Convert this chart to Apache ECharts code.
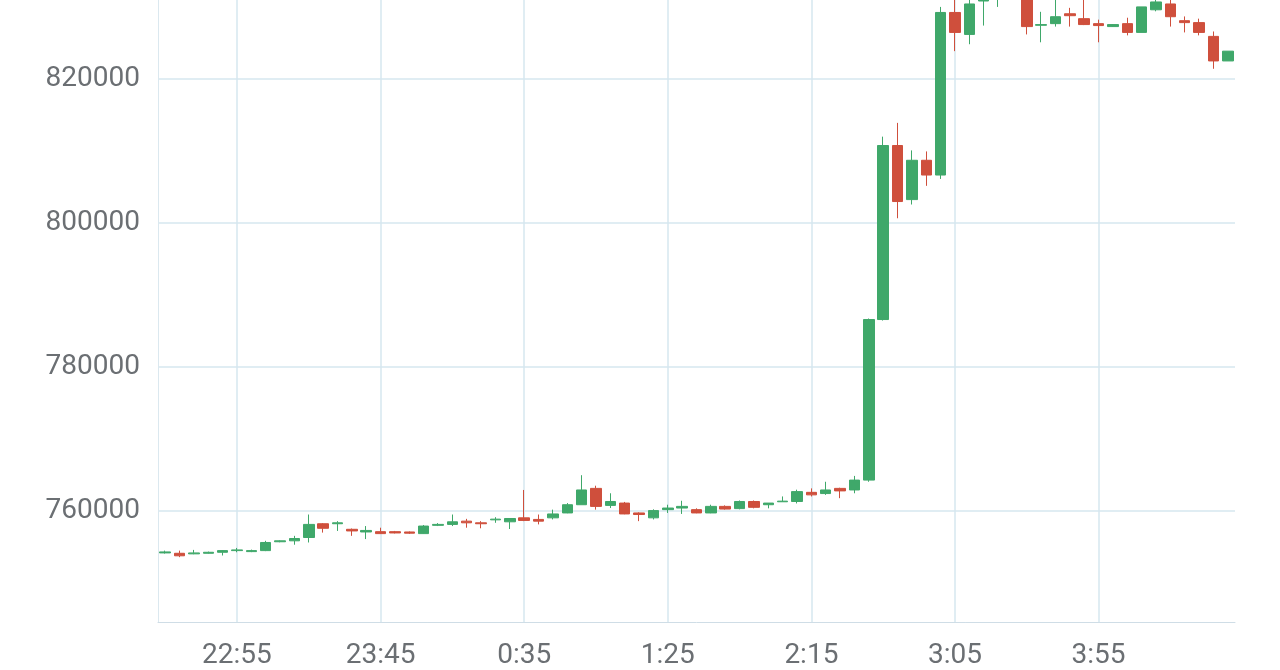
<!DOCTYPE html>
<html><head><meta charset="utf-8">
<script src="https://cdn.jsdelivr.net/npm/echarts@6/dist/echarts.min.js"></script>
<style>html,body{margin:0;padding:0;background:#fff}#c{width:1280px;height:670px}</style>
</head><body><div id="c"></div>
<script>
const categories = ["22:30","22:35","22:40","22:45","22:50","22:55","23:00","23:05","23:10","23:15","23:20","23:25","23:30","23:35","23:40","23:45","23:50","23:55","0:00","0:05","0:10","0:15","0:20","0:25","0:30","0:35","0:40","0:45","0:50","0:55","1:00","1:05","1:10","1:15","1:20","1:25","1:30","1:35","1:40","1:45","1:50","1:55","2:00","2:05","2:10","2:15","2:20","2:25","2:30","2:35","2:40","2:45","2:50","2:55","3:00","3:05","3:10","3:15","3:20","3:25","3:30","3:35","3:40","3:45","3:50","3:55","4:00","4:05","4:10","4:15","4:20","4:25","4:30","4:35","4:40"];
// [open, close, low, high]
const ohlc = [
[754160,754300,754070,754480],[754110,753760,753570,754480],[754030,754160,753980,754580],[754110,754250,754070,754340],
[754250,754480,753800,754550],[754480,754580,754250,754850],[754340,754480,754270,754620],[754480,755610,754410,755840],
[755710,755840,755640,755910],[755840,756160,755300,756530],[756300,758120,755610,759490],[758210,757580,756980,758300],
[758210,758340,757210,758570],[757440,757210,756530,757550],[757070,757280,756080,757890],[757110,756840,756800,757660],
[757110,756930,756870,757210],[757070,756900,756800,757140],[756840,757890,756800,758030],[757990,758120,757890,758300],
[758120,758480,757890,759490],[758570,758340,757660,758890],[758340,758210,757580,758570],[758750,758850,758340,759120],
[758480,758940,757480,758940],[759030,758670,758570,762900],[758810,758570,758120,759490],[759030,759570,758810,760170],
[759710,760850,759670,761080],[760850,762900,760850,764950],[763120,760620,760170,763490],[760760,761300,760390,762440],
[761080,759570,759530,761240],[759710,759490,758570,759800],[759030,760040,758810,760210],[760170,760390,759710,760850],
[760390,760620,759570,761400],[760170,759710,759670,760350],[759710,760620,759670,760850],[760620,760250,760170,760760],
[760310,761300,760210,761440],[761300,760490,760350,761440],[760850,761080,760350,761080],[761260,761350,761240,762000],
[761300,762670,761030,762940],[762570,762220,762000,763120],[762400,762900,762220,764040],[763120,762770,761760,763210],
[762900,764270,762440,764850],[764270,786560,764040,786700],[786560,810720,786420,811950],[810720,802940,800620,813860],
[803210,808670,802530,810040],[808670,806620,805120,809900],[806620,829190,806080,829960],[829190,826420,823820,831470],
[826140,830370,824780,831190],[830780,831190,827370,831740],[831190,831470,829960,831740],[831740,831470,831060,831870],
[831330,827230,826140,831600],[827410,827510,825050,829280],[827640,828600,827230,830920],[829010,828740,827230,829830],
[828330,827510,827440,830920],[827640,827370,825050,828190],[827230,827510,827170,827570],[827640,826420,826010,828460],
[826420,829960,826420,829960],[829560,830650,829350,830920],[830370,828600,827230,830920],[828050,827780,826420,828640],
[827780,826420,826010,828330],[825870,822460,821370,826550],[822460,823820,822460,823820]
];
const yTicks = [760000, 780000, 800000, 820000];
const xTicks = ["22:55","23:45","0:35","1:25","2:15","3:05","3:55"];
const yMin = 744570, yMax = 830920;
const grid = '#d6e7ef';
const markData = [
  ...yTicks.map(v=>({yAxis:v, label:{show:true}})),
  ...xTicks.map(t=>({xAxis:t, label:{show:false}}))
];
const chart = echarts.init(document.getElementById('c'));
chart.setOption({
  animation:false,
  grid:{left:158,right:45,top:0,bottom:38},
  xAxis:{type:'category',data:categories,boundaryGap:true,
    axisLine:{show:true,lineStyle:{color:'#cfdde6'}},
    axisTick:{show:false},
    axisLabel:{interval:(i)=>(i-5)%10===0,fontSize:28,color:'#6b6f73',margin:20,fontFamily:'Roboto, sans-serif'},
    splitLine:{show:false}},
  yAxis:{type:'value',min:yMin,max:yMax,
    axisLine:{show:true,lineStyle:{color:'#dbe8ef'}},axisTick:{show:false},
    axisLabel:{show:false},splitLine:{show:false}},
  series:[{type:'candlestick',data:ohlc,barWidth:11,
    itemStyle:{color:'#3fa86a',color0:'#cf4f3c',borderColor:'#3fa86a',borderColor0:'#cf4f3c',borderWidth:1},
    markLine:{silent:true,symbol:'none',z:0,animation:false,
      lineStyle:{color:grid,width:1.5,type:'solid'},
      label:{position:'start',distance:18,fontSize:28,color:'#6b6f73',fontFamily:'Roboto, sans-serif',formatter:(p)=>String(p.value)},
      emphasis:{disabled:true},
      data:markData}}]
});
</script></body></html>
